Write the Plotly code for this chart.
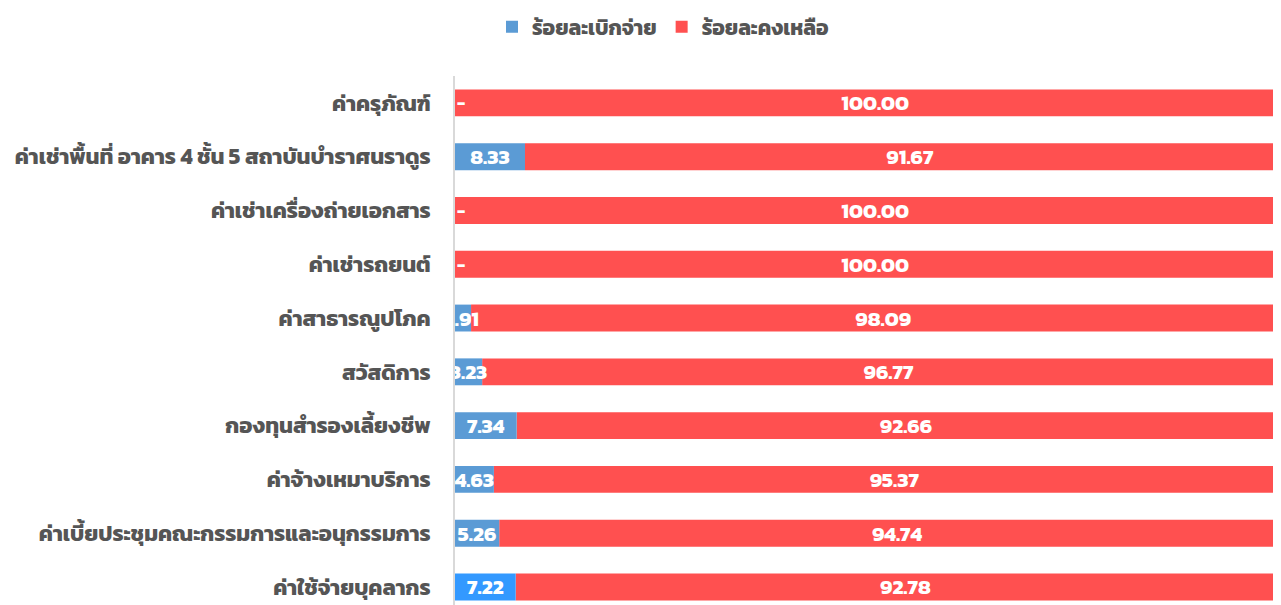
import plotly.graph_objects as go

categories = [
    "ค่าครุภัณฑ์",
    "ค่าเช่าพื้นที่ อาคาร 4 ชั้น 5 สถาบันบำราศนราดูร",
    "ค่าเช่าเครื่องถ่ายเอกสาร",
    "ค่าเช่ารถยนต์",
    "ค่าสาธารณูปโภค",
    "สวัสดิการ",
    "กองทุนสำรองเลี้ยงชีพ",
    "ค่าจ้างเหมาบริการ",
    "ค่าเบี้ยประชุมคณะกรรมการและอนุกรรมการ",
    "ค่าใช้จ่ายบุคลากร",
]
spent_pct = [0, 8.33, 0, 0, 1.91, 3.23, 7.34, 4.63, 5.26, 7.22]
remain_pct = [100.00, 91.67, 100.00, 100.00, 98.09, 96.77, 92.66, 95.37, 94.74, 92.78]
series_names = ["ร้อยละเบิกจ่าย", "ร้อยละคงเหลือ"]

FONT = "Kanit, Prompt, Noto Sans Thai, Noto Sans, sans-serif"
BLUE = "#5b9bd5"
BLUE_HL = "#3399ff"
RED = "#ff5050"

blue_colors = [BLUE] * len(categories)
blue_colors[-1] = BLUE_HL  # highlighted bar (ค่าใช้จ่ายบุคลากร)

LBL = dict(color="white", size=21, family=FONT, weight="bold")

fig = go.Figure()
# red (remaining) stacked on top of the spent portion; drawn first so the
# blue labels sit above it
fig.add_trace(go.Bar(
    y=categories, x=remain_pct, base=spent_pct, orientation="h",
    name=series_names[1], legendrank=2,
    marker=dict(color=RED, line=dict(width=0)),
    text=[f"{v:.2f}" for v in remain_pct],
    textposition="inside", insidetextanchor="middle", textangle=0,
    constraintext="none", textfont=LBL, cliponaxis=True,
))
fig.add_trace(go.Bar(
    y=categories, x=spent_pct, orientation="h",
    name=series_names[0], legendrank=1,
    marker=dict(color=blue_colors, line=dict(width=0)),
    text=[f"{v:.2f}" if v > 0 else "" for v in spent_pct],
    textposition="inside", insidetextanchor="middle", textangle=0,
    constraintext="none", textfont=LBL, cliponaxis=True,
))

for c, v in zip(categories, spent_pct):
    if v == 0:
        fig.add_annotation(x=0, y=c, xref="x", yref="y", text="-",
                           showarrow=False, xanchor="left", xshift=0,
                           font=dict(color="white", size=18, family=FONT, weight="bold"))

W, H = 1273, 597
fig.update_layout(
    width=W, height=H,
    barmode="overlay", bargap=0.5,
    margin=dict(l=447, r=0, t=68, b=0, pad=0),
    plot_bgcolor="white", paper_bgcolor="white",
    font=dict(family=FONT, color="#555555"),
    showlegend=True,
    legend=dict(orientation="h", xref="container", yref="container",
                x=655 / W, y=1 - 19 / H, xanchor="center", yanchor="middle",
                font=dict(size=21, color="#555555", family=FONT, weight="bold"),
                traceorder="normal"),
    xaxis=dict(range=[0, 98.3], showgrid=False, showticklabels=False,
               zeroline=False, showline=False, fixedrange=True),
    yaxis=dict(range=[9.335, -0.5], showgrid=False, ticks="",
               showline=True, linecolor="#d9d9d9", linewidth=2,
               tickfont=dict(size=22, color="#555555", family=FONT, weight="bold"),
               ticklabelstandoff=18),
)

fig.write_html("out.html")
